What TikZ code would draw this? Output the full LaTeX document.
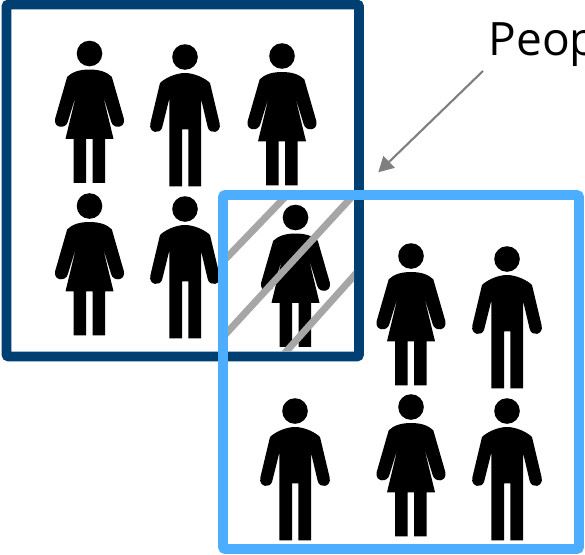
\documentclass[tikz,border=0pt]{standalone}
\usepackage{fontspec}
\setmainfont{Open Sans}
\usetikzlibrary{arrows.meta}
\definecolor{darkbox}{HTML}{003F72}
\definecolor{lightbox}{HTML}{4DAEFF}
\definecolor{hatch}{HTML}{A6A6A6}
\definecolor{pointer}{HTML}{7F7F7F}
\tikzset{
  frameA/.style={draw=darkbox,line width=9.6pt,rounded corners=2pt},
  frameB/.style={draw=lightbox,line width=9.6pt,rounded corners=2pt},
  hatchline/.style={draw=hatch,line width=7pt},
  pointerline/.style={draw=pointer,line width=2.1pt,-{Triangle[length=15pt,width=16pt]}},
  woman/.pic={
    \fill (0,0) circle (12.8);
    \fill (0,16) .. controls (9,16) and (17,18) .. (22.3,23.3) -- (34.3,65)
      .. controls (36.5,75) and (23.5,76) .. (21.6,68) -- (13,40)
      -- (24,85.3) -- (15.7,85.3) -- (15.7,129.3) -- (3,129.3) -- (3,85.3)
      -- (-3.3,85.3) -- (-3.3,129.3) -- (-16,129.3) -- (-16,85.3) -- (-24,85.3)
      -- (-13,40) -- (-21.6,68)
      .. controls (-23.5,76) and (-36.5,75) .. (-34.3,65) -- (-22.3,23.3)
      .. controls (-17,18) and (-9,16) .. cycle;
  },
  man/.pic={
    \fill (0,0) circle (12.8);
    \fill (0,16) .. controls (9,16) and (20,21) .. (25,26) -- (34.7,66.7)
      .. controls (36.5,76) and (24.5,78) .. (22.7,70) -- (16,41.7)
      -- (16,129.3) -- (3.3,129.3) -- (3.3,72.3) -- (-3,72.3) -- (-3,129.3)
      -- (-15.7,129.3) -- (-15.7,41.7) -- (-22.7,70)
      .. controls (-24.5,78) and (-36.5,76) .. (-34.7,66.7) -- (-25,26)
      .. controls (-20,21) and (-9,16) .. cycle;
  }
}
\begin{document}
\begin{tikzpicture}[x=1pt,y=-1pt]
\useasboundingbox[clip] (0,0) rectangle (585,554);
\fill[white] (0,0) rectangle (585,554);
\draw[frameA] (6.5,4.5) rectangle (359,356.5);
\pic at (89.5,53.5) {woman};
\pic at (185,57) {man};
\pic at (282,56) {woman};
\pic at (89.5,206) {woman};
\pic at (185,209) {man};
\pic at (295.5,217.5) {woman};
\pic at (411,256) {woman};
\pic at (507,259) {man};
\pic at (295,411) {man};
\pic at (411,407) {woman};
\pic at (507,411) {man};
\begin{scope}
\clip (223,200) rectangle (354,351.7);
\draw[hatchline] (222,262.6) -- (288,194);
\draw[hatchline] (222,338) -- (353,195.6);
\draw[hatchline] (281,357.3) -- (358,271.3);
\end{scope}
\draw[frameB] (223,195) rectangle (579,549);
\node[anchor=base west,inner sep=0pt,font=\fontsize{46}{46}\selectfont] (label) at (488.5,55) {Peop};
\coordinate (tailpt) at (483,71);
\coordinate (tippt) at (378.3,172.3);
\draw[pointerline] (tailpt) -- (tippt);
\end{tikzpicture}
\end{document}
